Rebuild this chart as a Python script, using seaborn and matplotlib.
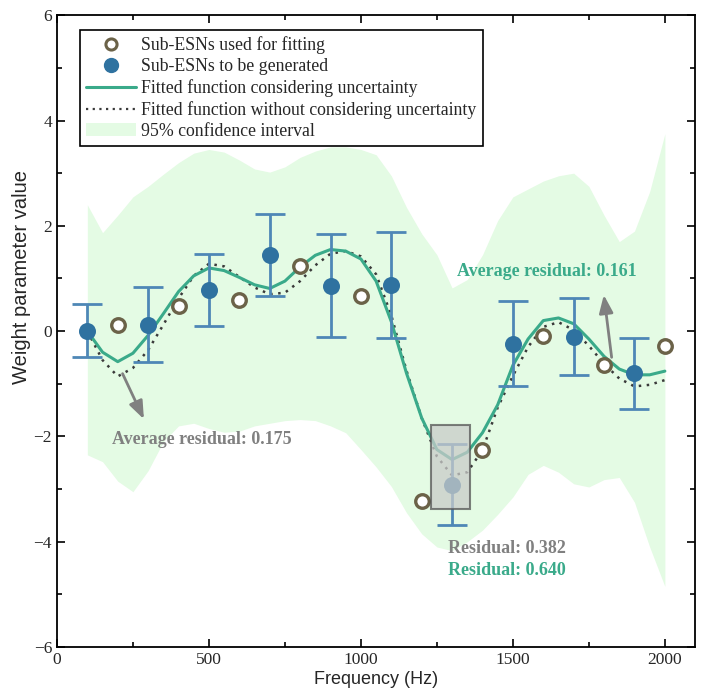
import numpy as np
import pandas as pd
import matplotlib
matplotlib.use("Agg")
import matplotlib.pyplot as plt
import seaborn as sns
from matplotlib.patches import Rectangle, Patch
from matplotlib.lines import Line2D

# ---- data -------------------------------------------------------------
fit_freq = [200, 400, 600, 800, 1000, 1200, 1400, 1600, 1800, 2000]
fit_value = [0.12, 0.48, 0.60, 1.24, 0.67, -3.22, -2.25, -0.10, -0.64, -0.28]

gen_freq = [100, 300, 500, 700, 900, 1100, 1300, 1500, 1700, 1900]
gen_value = [0.01, 0.12, 0.78, 1.44, 0.86, 0.88, -2.92, -0.24, -0.11, -0.80]
gen_err = [0.50, 0.71, 0.68, 0.78, 0.98, 1.01, 0.77, 0.81, 0.73, 0.67]

curve_freq = list(range(100, 2001, 50))
fit_with_unc = [0.00, -0.40, -0.58, -0.42, -0.08, 0.33, 0.75, 1.05, 1.20, 1.15,
                1.02, 0.88, 0.81, 0.95, 1.22, 1.44, 1.55, 1.52, 1.37, 0.95,
                0.18, -0.80, -1.65, -2.25, -2.44, -2.30, -1.93, -1.40, -0.65, -0.15,
                0.20, 0.25, 0.14, -0.15, -0.48, -0.72, -0.83, -0.83, -0.76]
fit_without_unc = [0.00, -0.55, -0.86, -0.70, -0.36, 0.12, 0.62, 1.05, 1.28, 1.23,
                   1.03, 0.83, 0.70, 0.73, 0.95, 1.25, 1.47, 1.52, 1.42, 1.08,
                   0.30, -0.75, -1.65, -2.38, -2.74, -2.68, -2.26, -1.45, -0.85, -0.30,
                   0.08, 0.17, 0.02, -0.28, -0.62, -0.90, -1.05, -1.02, -0.93]
ci_upper = [2.40, 1.87, 2.20, 2.55, 2.75, 2.98, 3.20, 3.38, 3.45, 3.40,
            3.25, 3.08, 3.02, 3.12, 3.30, 3.42, 3.50, 3.50, 3.45, 3.35,
            2.95, 2.35, 1.85, 1.45, 0.82, 0.98, 1.45, 2.10, 2.55, 2.70,
            2.85, 2.95, 3.00, 2.75, 2.20, 1.70, 1.90, 2.65, 3.75]
ci_lower = [-2.35, -2.48, -2.85, -3.05, -2.65, -2.10, -1.80, -1.75, -1.85, -1.92,
            -1.90, -1.80, -1.75, -1.70, -1.68, -1.70, -1.80, -1.93, -2.25, -2.58,
            -2.95, -3.45, -3.85, -4.10, -4.17, -4.00, -3.78, -3.48, -3.15, -2.72,
            -2.55, -2.68, -2.90, -2.96, -2.82, -2.78, -3.25, -4.10, -4.85]

legend_labels = ["Sub-ESNs used for fitting", "Sub-ESNs to be generated",
                 "Fitted function considering uncertainty",
                 "Fitted function without considering uncertainty",
                 "95% confidence interval"]

# ---- style ------------------------------------------------------------
sns.set_theme(style="ticks")
plt.rcParams["font.family"] = ["Liberation Serif", "DejaVu Serif"]

c_green = "#3aaa8a"
c_blue = "#2f72a0"
c_err = "#4e87b6"
c_ring = "#6b6248"
c_band = "#e4fbe4"
c_gray = "#808080"

fig = plt.figure(figsize=(7.03, 6.92), dpi=100)
ax = fig.add_axes([0.081, 0.065, 0.908, 0.913])

curves = pd.DataFrame({"freq": curve_freq, "unc": fit_with_unc, "nounc": fit_without_unc,
                       "lo": ci_lower, "hi": ci_upper})
fit_df = pd.DataFrame({"freq": fit_freq, "value": fit_value})
gen_df = pd.DataFrame({"freq": gen_freq, "value": gen_value, "err": gen_err})

ax.fill_between(curves["freq"], curves["lo"], curves["hi"], color=c_band, lw=0, zorder=1)

sns.lineplot(data=curves, x="freq", y="nounc", ax=ax, color="#3a3a3a", lw=1.8,
             linestyle=(0, (1, 2.2)), zorder=3)
sns.lineplot(data=curves, x="freq", y="unc", ax=ax, color=c_green, lw=2.2, zorder=4)

ax.errorbar(gen_df["freq"], gen_df["value"], yerr=gen_df["err"], fmt="none",
            ecolor=c_err, elinewidth=2.0, capsize=11, capthick=2.0, zorder=5)
sns.scatterplot(data=gen_df, x="freq", y="value", ax=ax, s=150, color=c_blue,
                edgecolor=c_blue, linewidth=0, zorder=6)
sns.scatterplot(data=fit_df, x="freq", y="value", ax=ax, s=95, facecolor="white",
                edgecolor=c_ring, linewidth=2.4, zorder=6)

# highlighted region around the 1300 Hz point
ax.add_patch(Rectangle((1230, -3.38), 130, 1.60, facecolor="#c9cbc9", alpha=0.75,
                       edgecolor="#555555", lw=1.5, zorder=7))

# annotations
ax.annotate("", xy=(290, -1.72), xytext=(212, -0.76),
            arrowprops=dict(arrowstyle="-|>,head_length=0.9,head_width=0.35",
                            color=c_gray, lw=2.0), zorder=8)
ax.text(181, -2.06, "Average residual: 0.175", color=c_gray, fontsize=13,
        fontweight="bold", va="center", ha="left", zorder=8)
ax.annotate("", xy=(1798, 0.74), xytext=(1826, -0.55),
            arrowprops=dict(arrowstyle="-|>,head_length=0.9,head_width=0.35",
                            color=c_gray, lw=2.0), zorder=8)
ax.text(1316, 1.14, "Average residual: 0.161", color=c_green, fontsize=13,
        fontweight="bold", va="center", ha="left", zorder=8)
ax.text(1286, -4.13, "Residual: 0.382", color=c_gray, fontsize=13,
        fontweight="bold", va="center", ha="left", zorder=8)
ax.text(1286, -4.55, "Residual: 0.640", color=c_green, fontsize=13,
        fontweight="bold", va="center", ha="left", zorder=8)

# axes
ax.set_xlim(0, 2100)
ax.set_ylim(-6, 6)
ax.set_xticks([0, 500, 1000, 1500, 2000])
ax.set_xticks([250, 750, 1250, 1750], minor=True)
ax.set_yticks([-6, -4, -2, 0, 2, 4, 6])
ax.set_yticks([-5, -3, -1, 1, 3, 5], minor=True)
ax.set_yticklabels(["\u22126", "\u22124", "\u22122", "0", "2", "4", "6"])
ax.tick_params(which="both", direction="in", top=True, right=True, labelsize=12.5,
               color="black", width=1.2)
ax.tick_params(which="major", length=6)
ax.tick_params(which="minor", length=3.5)
for s in ax.spines.values():
    s.set_color("black")
    s.set_linewidth(1.3)
lab_font = ["Liberation Sans Narrow", "Liberation Sans", "DejaVu Sans"]
ax.set_xlabel("Frequency (Hz)", fontsize=13, family=lab_font, labelpad=2)
ax.set_ylabel("Weight parameter value", fontsize=14.5, family=lab_font)
ax.yaxis.set_label_coords(-0.04, 0.585)

handles = [
    Line2D([], [], marker="o", ls="none", markersize=8, markerfacecolor="white",
           markeredgecolor=c_ring, markeredgewidth=2.2),
    Line2D([], [], marker="o", ls="none", markersize=10, color=c_blue),
    Line2D([], [], color=c_green, lw=2.2),
    Line2D([], [], color="#3a3a3a", lw=1.6, linestyle=(0, (1, 2))),
    Patch(facecolor=c_band, edgecolor="none"),
]
leg = ax.legend(handles, legend_labels, loc="upper left", bbox_to_anchor=(0.036, 0.976),
                fontsize=12.8, frameon=True, fancybox=False, edgecolor="black",
                framealpha=1, handlelength=2.8, handletextpad=0.3, labelspacing=0.22,
                borderpad=0.35, borderaxespad=0)
leg.get_frame().set_linewidth(1.2)
leg.set_zorder(10)

fig.savefig("out.png", dpi=100)
